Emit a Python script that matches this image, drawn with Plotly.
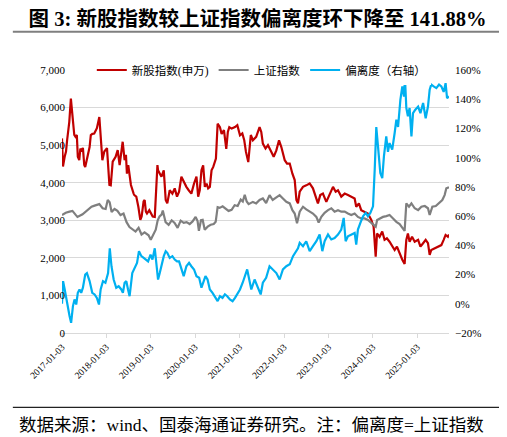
import plotly.graph_objects as go

# 新股指数(申万)
new_dates = ['2017-01-03', '2017-01-11', '2017-01-25', '2017-02-05', '2017-02-14', '2017-03-04', '2017-03-17',
             '2017-03-31', '2017-04-14', '2017-04-24', '2017-05-05', '2017-05-13', '2017-05-25', '2017-06-03',
             '2017-06-13', '2017-06-24', '2017-07-05', '2017-07-13', '2017-08-01', '2017-08-18', '2017-08-28',
             '2017-09-10', '2017-09-25', '2017-10-17', '2017-11-06', '2017-11-19', '2017-12-01', '2017-12-17',
             '2018-01-08', '2018-01-28', '2018-02-08', '2018-02-24', '2018-03-20', '2018-04-06', '2018-04-22',
             '2018-05-17', '2018-06-02', '2018-06-13', '2018-06-21', '2018-07-02', '2018-07-24', '2018-08-15',
             '2018-08-21', '2018-09-06', '2018-09-17', '2018-09-23', '2018-10-09', '2018-10-20', '2018-11-05',
             '2018-11-14', '2018-11-24', '2018-12-03', '2018-12-22', '2019-01-11', '2019-01-19', '2019-02-05',
             '2019-02-19', '2019-02-27', '2019-03-04', '2019-03-18', '2019-04-01', '2019-04-20', '2019-05-06',
             '2019-05-19', '2019-06-08', '2019-06-30', '2019-07-19', '2019-08-07', '2019-08-24', '2019-09-12',
             '2019-10-01', '2019-10-23', '2019-11-11', '2019-12-03', '2019-12-25', '2020-01-14', '2020-01-28',
             '2020-02-10', '2020-02-24', '2020-03-09', '2020-03-23', '2020-04-06', '2020-04-19', '2020-05-03',
             '2020-05-17', '2020-05-31', '2020-06-22', '2020-07-06', '2020-07-25', '2020-08-08', '2020-08-27',
             '2020-09-15', '2020-09-28', '2020-10-10', '2020-10-29', '2020-11-26', '2020-12-15', '2021-01-06',
             '2021-01-25', '2021-02-10', '2021-02-24', '2021-03-15', '2021-04-05', '2021-04-22', '2021-05-19',
             '2021-06-16', '2021-06-30', '2021-07-13', '2021-08-04', '2021-08-24', '2021-09-21', '2021-10-10',
             '2021-11-01', '2021-11-23', '2021-12-12', '2022-01-09', '2022-01-28', '2022-02-19', '2022-03-13',
             '2022-04-01', '2022-04-15', '2022-04-28', '2022-05-12', '2022-06-08', '2022-07-05', '2022-08-02',
             '2022-08-29', '2022-09-20', '2022-10-09', '2022-10-28', '2022-11-19', '2022-12-17', '2023-01-14',
             '2023-02-10', '2023-03-04', '2023-03-23', '2023-04-19', '2023-05-17', '2023-06-13', '2023-07-10',
             '2023-08-07', '2023-08-20', '2023-09-11', '2023-09-30', '2023-10-28', '2023-11-24', '2023-12-22',
             '2024-01-10', '2024-01-27', '2024-02-07', '2024-02-28', '2024-03-21', '2024-04-09', '2024-04-28',
             '2024-05-20', '2024-06-11', '2024-07-01', '2024-07-20', '2024-08-11', '2024-09-02', '2024-09-21',
             '2024-10-05', '2024-10-18', '2024-11-01', '2024-11-21', '2024-12-13', '2025-01-10', '2025-01-29',
             '2025-02-20', '2025-03-13', '2025-04-01', '2025-04-15', '2025-04-28', '2025-05-26', '2025-06-22',
             '2025-07-20', '2025-08-08', '2025-08-24', '2025-09-12', '2025-09-21']
new_vals = [5180, 4430, 4690, 4830, 5130, 5620, 6240,
            5800, 5270, 5220, 5270, 4690, 4600, 4910,
            4830, 4930, 4470, 4420, 4700, 4950, 5270,
            5300, 5310, 5450, 5750, 5050, 4600, 4830,
            4920, 3940, 3930, 4560, 4690, 4870, 4470,
            5090, 4600, 4740, 4240, 4470, 3940, 3710,
            3670, 3630, 3500, 3360, 3010, 3100, 3500,
            3540, 3230, 3180, 3270, 3140, 3100, 3090,
            3890, 4470, 4330, 4240, 4160, 4330, 3540,
            3450, 3800, 3710, 3850, 3630, 3760, 4160,
            4020, 3890, 3800, 3710, 3980, 4160, 3630,
            3800, 4330, 4460, 3890, 3980, 3850, 3890,
            4330, 4420, 4640, 5570, 5480, 5300, 5400,
            4900, 5350, 5480, 5440, 5480, 5530, 5260,
            5310, 5130, 4820, 4550, 5270, 5130, 5220,
            5480, 5350, 5040, 4910, 5000, 4820, 4690,
            4860, 5130, 4950, 4600, 4510, 4510, 4240,
            4070, 3540, 3450, 3760, 3890, 3930, 3980,
            3850, 3630, 3450, 3670, 3710, 3490, 3710,
            3890, 3760, 3800, 3630, 3710, 3670, 3630,
            3580, 3360, 3450, 3270, 3230, 3180, 3010,
            2830, 2030, 2650, 2560, 2700, 2480, 2520,
            2430, 2300, 2210, 2300, 2120, 1950, 1840,
            2480, 2650, 2430, 2560, 2430, 2480, 2300,
            2390, 2480, 2390, 2080, 2210, 2250, 2300,
            2340, 2480, 2610, 2560, 2620]

# 上证指数
sh_dates = ['2017-01-03', '2017-02-03', '2017-03-06', '2017-03-30', '2017-04-24', '2017-05-10', '2017-06-21',
            '2017-08-01', '2017-09-03', '2017-09-28', '2017-11-06', '2017-12-03', '2017-12-28', '2018-01-14',
            '2018-01-30', '2018-02-15', '2018-03-11', '2018-04-04', '2018-04-29', '2018-05-24', '2018-06-18',
            '2018-07-12', '2018-08-06', '2018-08-31', '2018-09-25', '2018-10-19', '2018-11-13', '2018-12-16',
            '2019-01-03', '2019-01-19', '2019-02-13', '2019-03-01', '2019-03-16', '2019-04-02', '2019-04-12',
            '2019-05-05', '2019-05-30', '2019-06-24', '2019-07-18', '2019-08-12', '2019-09-06', '2019-10-01',
            '2019-10-25', '2019-11-19', '2019-12-13', '2020-01-07', '2020-01-23', '2020-02-03', '2020-02-20',
            '2020-03-05', '2020-03-22', '2020-04-15', '2020-05-10', '2020-06-04', '2020-06-20', '2020-07-06',
            '2020-07-23', '2020-08-16', '2020-09-10', '2020-10-04', '2020-10-29', '2020-11-23', '2020-12-18',
            '2021-01-12', '2021-01-29', '2021-02-14', '2021-03-02', '2021-03-18', '2021-04-22', '2021-05-19',
            '2021-06-16', '2021-07-13', '2021-08-09', '2021-09-06', '2021-10-02', '2021-11-01', '2021-11-28',
            '2021-12-25', '2022-01-22', '2022-02-19', '2022-03-13', '2022-04-01', '2022-04-20', '2022-05-12',
            '2022-06-08', '2022-07-05', '2022-08-02', '2022-08-29', '2022-09-26', '2022-10-15', '2022-11-06',
            '2022-12-03', '2022-12-31', '2023-01-27', '2023-02-23', '2023-03-23', '2023-04-19', '2023-05-17',
            '2023-06-13', '2023-07-10', '2023-08-07', '2023-09-03', '2023-09-30', '2023-10-28', '2023-11-24',
            '2023-12-22', '2024-01-10', '2024-01-27', '2024-02-08', '2024-02-28', '2024-03-27', '2024-04-24',
            '2024-05-20', '2024-06-18', '2024-07-15', '2024-08-11', '2024-09-08', '2024-09-21', '2024-10-05',
            '2024-10-27', '2024-11-16', '2024-12-13', '2025-01-10', '2025-02-06', '2025-03-06', '2025-04-01',
            '2025-04-15', '2025-05-07', '2025-06-04', '2025-07-01', '2025-07-28', '2025-08-16', '2025-08-30',
            '2025-09-21']
sh_vals = [3140, 3200, 3230, 3250, 3150, 3090, 3160,
           3270, 3360, 3390, 3430, 3320, 3300, 3540,
           3480, 3220, 3300, 3250, 3140, 3180, 2950,
           2820, 2760, 2700, 2800, 2620, 2680, 2600,
           2480, 2590, 2750, 3000, 3100, 3150, 3260,
           2950, 2880, 3000, 2930, 2800, 2990, 2930,
           2950, 2900, 2970, 3090, 2980, 2720, 3000,
           3010, 2750, 2830, 2880, 2900, 2960, 3350,
           3330, 3370, 3300, 3250, 3280, 3400, 3380,
           3550, 3500, 3680, 3500, 3430, 3490, 3450,
           3540, 3580, 3460, 3670, 3540, 3610, 3670,
           3580, 3490, 3450, 3270, 3180, 2920, 3230,
           3360, 3290, 3230, 3180, 3090, 2940, 3090,
           3200, 3270, 3320, 3230, 3270, 3230, 3230,
           3180, 3140, 3180, 3090, 3050, 3050, 3010,
           2920, 2880, 2830, 3010, 3050, 3090, 3110,
           3140, 3050, 2960, 2900, 2790, 2720, 3450,
           3360, 3450, 3320, 3270, 3360, 3380, 3320,
           3140, 3360, 3380, 3450, 3540, 3670, 3850,
           3880]

# 偏离度(右轴), in %
dev_dates = ['2017-01-03', '2017-01-08', '2017-01-12', '2017-01-25', '2017-02-08', '2017-02-22', '2017-03-06',
             '2017-03-19', '2017-04-03', '2017-04-16', '2017-04-30', '2017-05-13', '2017-05-27', '2017-06-10',
             '2017-06-24', '2017-07-13', '2017-07-27', '2017-08-18', '2017-09-09', '2017-09-28', '2017-10-17',
             '2017-11-03', '2017-11-17', '2017-12-06', '2017-12-26', '2018-01-17', '2018-01-31', '2018-02-14',
             '2018-03-04', '2018-03-25', '2018-04-14', '2018-05-06', '2018-05-19', '2018-06-02', '2018-06-16',
             '2018-06-30', '2018-07-13', '2018-08-04', '2018-08-24', '2018-09-12', '2018-09-28', '2018-10-18',
             '2018-11-06', '2018-11-23', '2018-12-12', '2019-01-01', '2019-01-17', '2019-02-05', '2019-02-19',
             '2019-03-04', '2019-03-18', '2019-04-01', '2019-04-20', '2019-05-06', '2019-05-19', '2019-06-08',
             '2019-06-30', '2019-07-19', '2019-08-07', '2019-08-24', '2019-09-12', '2019-10-01', '2019-10-23',
             '2019-11-14', '2019-12-03', '2019-12-25', '2020-01-14', '2020-02-05', '2020-02-24', '2020-03-09',
             '2020-03-28', '2020-04-14', '2020-05-03', '2020-05-25', '2020-06-13', '2020-07-06', '2020-07-25',
             '2020-08-15', '2020-09-04', '2020-09-23', '2020-10-15', '2020-11-06', '2020-11-26', '2020-12-15',
             '2021-01-06', '2021-01-28', '2021-02-16', '2021-03-06', '2021-03-23', '2021-04-09', '2021-05-06',
             '2021-06-03', '2021-06-25', '2021-07-13', '2021-08-09', '2021-09-06', '2021-10-02', '2021-11-01',
             '2021-11-28', '2021-12-25', '2022-01-22', '2022-02-19', '2022-03-18', '2022-04-15', '2022-04-28',
             '2022-05-12', '2022-06-08', '2022-07-05', '2022-08-02', '2022-08-29', '2022-09-26', '2022-10-23',
             '2022-11-14', '2022-12-03', '2022-12-31', '2023-01-27', '2023-02-23', '2023-03-23', '2023-04-19',
             '2023-05-09', '2023-05-25', '2023-06-13', '2023-07-10', '2023-08-07', '2023-08-20', '2023-09-03',
             '2023-09-23', '2023-10-15', '2023-11-06', '2023-11-24', '2023-12-14', '2024-01-05', '2024-01-19',
             '2024-02-01', '2024-02-15', '2024-03-05', '2024-03-21', '2024-04-04', '2024-04-23', '2024-05-07',
             '2024-05-20', '2024-06-11', '2024-07-01', '2024-07-15', '2024-07-29', '2024-08-17', '2024-09-02',
             '2024-09-16', '2024-09-24', '2024-10-05', '2024-10-18', '2024-11-01', '2024-11-16', '2024-11-29',
             '2024-12-18', '2025-01-10', '2025-01-29', '2025-02-20', '2025-03-13', '2025-04-01', '2025-04-15',
             '2025-04-28', '2025-05-18', '2025-06-09', '2025-07-01', '2025-07-20', '2025-08-08', '2025-08-24',
             '2025-09-05', '2025-09-21']
dev_vals = [0.0, 12.0, 15.5, 10.0, 3.0, -5.0, -8.4,
            -13.0, -1.6, 3.0, -0.5, 7.5, 9.8, 7.5,
            11.0, 20.0, 21.0, 15.5, 7.5, 6.4, 4.0,
            -0.5, 9.8, 15.5, 14.4, 21.0, 38.0, 25.7,
            16.6, 11.0, 12.0, 9.8, 7.5, 14.4, 15.5,
            9.8, 5.2, 21.0, 24.6, 28.0, 36.0, 32.6,
            31.4, 30.3, 29.0, 33.7, 30.3, 38.0, 28.0,
            16.6, 21.0, 27.0, 32.6, 36.0, 34.9, 31.4,
            32.6, 30.3, 29.0, 29.0, 23.5, 18.9, 25.7,
            28.0, 25.7, 23.5, 18.9, 17.8, 11.0, 14.4,
            18.9, 16.6, 9.8, 7.5, 5.2, 1.8, 5.2,
            4.0, 6.4, 5.2, 3.0, 1.8, 4.0, 6.4,
            9.8, 14.4, 18.9, 23.5, 16.6, 9.8, 16.6,
            11.0, 6.4, 14.4, 17.8, 25.7, 23.5, 21.0,
            16.6, 23.5, 25.7, 27.0, 32.6, 37.0, 38.0,
            41.7, 39.4, 42.8, 36.0, 39.4, 42.8, 47.4,
            36.0, 42.8, 47.4, 44.0, 45.0, 47.4, 50.8,
            58.8, 42.8, 46.2, 47.4, 48.5, 40.5, 50.8,
            55.4, 59.9, 62.2, 59.9, 62.2, 66.7, 91.8,
            121.0, 107.7, 89.5, 86.0, 101.0, 114.6, 104.0,
            110.0, 105.5, 116.9, 126.0, 121.0, 139.6, 148.8,
            141.9, 154.5, 134.0, 128.3, 134.0, 114.6, 130.5,
            132.8, 135.0, 130.5, 137.4, 127.0, 135.0, 146.5,
            150.0, 148.8, 147.6, 150.0, 148.8, 145.0, 151.0,
            140.8, 141.88]

year_ticks = ['2017-01-03', '2018-01-03', '2019-01-03', '2020-01-03', '2021-01-03',
              '2022-01-03', '2023-01-03', '2024-01-03', '2025-01-03']

serif = 'Liberation Serif, Noto Sans CJK SC'
grid = '#D9D9D9'

# the page puts the figure 8px in from the top-left, so the figure is 8px smaller
W, H = 499, 429

fig = go.Figure()
fig.add_trace(go.Scatter(x=new_dates, y=new_vals, name='新股指数(申万)', mode='lines',
                         line=dict(color='#C00000', width=2.2)))
fig.add_trace(go.Scatter(x=sh_dates, y=sh_vals, name='上证指数', mode='lines',
                         line=dict(color='#7F7F7F', width=2.2)))
fig.add_trace(go.Scatter(x=dev_dates, y=[v / 100 for v in dev_vals], name='偏离度（右轴）',
                         mode='lines', yaxis='y2', line=dict(color='#00B0F0', width=2.2)))

fig.update_layout(
    width=W, height=H,
    margin=dict(l=54, r=58, t=62, b=104),
    paper_bgcolor='white', plot_bgcolor='white',
    font=dict(family=serif, size=11, color='#000000'),
    title=dict(text='<b>图 3: 新股指数较上证指数偏离度环下降至 141.88%</b>',
               xref='container', yref='container', x=0.5, xanchor='center',
               y=1 - 10.5 / H, yanchor='middle',
               font=dict(family=serif, size=20.5, color='#000000')),
    xaxis=dict(type='date', range=['2017-01-03', '2025-09-21'],
               tickvals=year_ticks, ticktext=year_ticks, tickangle=-45,
               tickfont=dict(size=9.5), showgrid=False, zeroline=False,
               showline=True, linecolor=grid, linewidth=1,
               ticks='outside', ticklen=4, tickcolor=grid),
    yaxis=dict(range=[0, 7000], dtick=1000, tickformat=',', showgrid=True,
               gridcolor=grid, gridwidth=1, zeroline=False, ticks='',
               tickfont=dict(size=11), ticklabelstandoff=-4),
    yaxis2=dict(range=[-0.2, 1.6], dtick=0.2, tickformat='.0%', overlaying='y',
                side='right', showgrid=False, zeroline=False, ticks='',
                tickfont=dict(size=11), ticklabelstandoff=5),
    legend=dict(orientation='h', x=0.515, xanchor='center', y=1.0, yanchor='middle',
                bgcolor='white', font=dict(family=serif, size=11.5),
                tracegroupgap=0),
    showlegend=True,
)

# title underline and footer rule
fig.add_shape(type='line', xref='paper', yref='paper', x0=-0.127, x1=1.158,
              y0=1.1456, y1=1.1456, line=dict(color='#7F7F7F', width=2))
fig.add_shape(type='line', xref='paper', yref='paper', x0=-0.127, x1=1.158,
              y0=-0.2825, y1=-0.2825, line=dict(color='#222222', width=1.3))

fig.add_annotation(text='数据来源：wind、国泰海通证券研究。注：偏离度=上证指数',
                   xref='paper', yref='paper', x=-0.117, y=-0.35,
                   xanchor='left', yanchor='middle', showarrow=False,
                   font=dict(family=serif, size=17.5, color='#000000'))

fig.write_html("out.html")
